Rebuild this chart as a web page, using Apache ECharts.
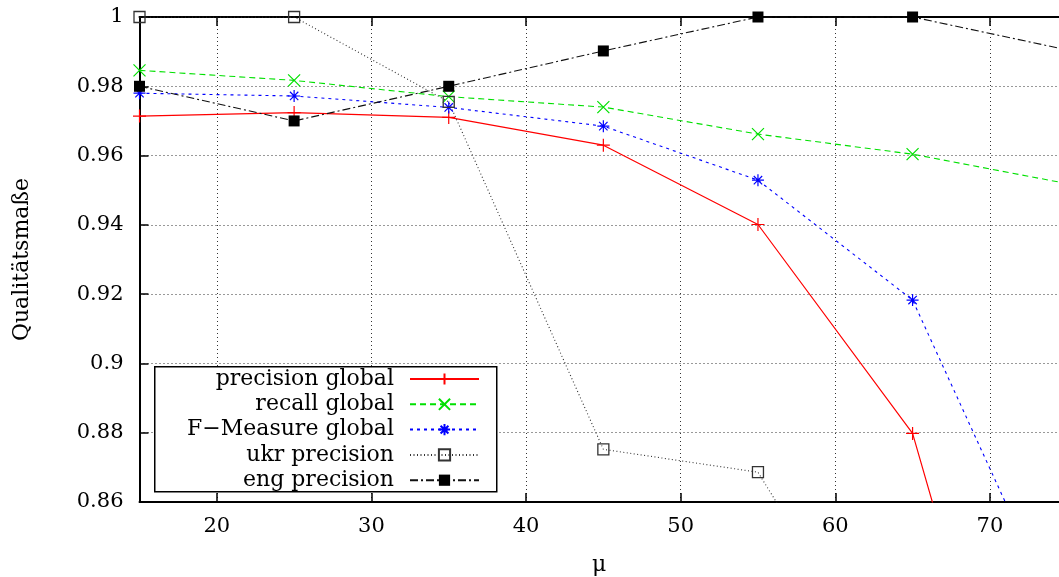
<!DOCTYPE html>
<html><head><meta charset="utf-8">
<script src="https://cdn.jsdelivr.net/npm/echarts@6/dist/echarts.min.js"></script>
<style>html,body{margin:0;padding:0;background:#fff}#c{width:1059px;height:577px}</style>
</head><body><div id="c"></div>
<script>
const xValues = [15, 25, 35, 45, 55, 65, 75];
const precisionGlobal = [0.9714, 0.9724, 0.9710, 0.9630, 0.9401, 0.8798, 0.725];
const recallGlobal = [0.9846, 0.9817, 0.9770, 0.9740, 0.9662, 0.9604, 0.9519];
const fMeasureGlobal = [0.9780, 0.9772, 0.9739, 0.9685, 0.9529, 0.9183, 0.821];
const ukrPrecision = [1.0, 1.0, 0.9755, 0.8752, 0.8686, 0.796];
const engPrecision = [0.980, 0.970, 0.980, 0.9902, 1.0, 1.0, 0.9905];
const xTicks = [20, 30, 40, 50, 60, 70];
const seriesNames = ['precision global', 'recall global', 'F\u2212Measure global', 'ukr precision', 'eng precision'];

const zip = (arr) => arr.map((v, i) => [xValues[i], v]);
const FONT = 'DejaVu Serif';
const plusPath = 'path://M0,5L10,5M5,0L5,10';
const crossPath = 'path://M0,0L10,10M10,0L0,10';
const starPath = 'path://M0,5L10,5M5,0L5,10M1.5,1.5L8.5,8.5M8.5,1.5L1.5,8.5';

function mk(name, data, color, type, symbol, size, itemStyle, width) {
  return {
    name, type: 'line', data: zip(data), symbol, symbolSize: size, symbolKeepAspect: true,
    clip: true, z: 3,
    lineStyle: { color, width: width || 1.1, type },
    itemStyle: itemStyle,
    emphasis: { disabled: true }, animation: false
  };
}

const chart = echarts.init(document.getElementById('c'), null, { renderer: 'canvas' });
const gridLine = { show: true, lineStyle: { color: '#333', width: 1, type: [1, 3] } };
const X_MAX = 74.47;
chart.setOption({
  animation: false,
  grid: { left: 139.5, top: 17, right: 0, bottom: 75, containLabel: false, outerBoundsMode: 'none' },
  xAxis: [{
    type: 'value', min: 15, max: X_MAX, position: 'bottom',
    name: '\u03bc', nameLocation: 'middle', nameGap: 52,
    nameTextStyle: { fontFamily: FONT, fontSize: 22, color: '#000' },
    axisLine: { show: true, lineStyle: { color: '#000', width: 2 } },
    axisTick: { show: true, inside: true, length: 9, customValues: xTicks, lineStyle: { color: '#000', width: 1.5 } },
    axisLabel: { customValues: xTicks, fontFamily: FONT, fontSize: 21, color: '#000', margin: 14 },
    splitLine: gridLine
  }, {
    type: 'value', min: 15, max: X_MAX, position: 'top',
    axisLine: { show: true, onZero: false, lineStyle: { color: '#000', width: 2 } },
    axisTick: { show: true, inside: true, length: 9, customValues: xTicks, lineStyle: { color: '#000', width: 1.5 } },
    axisLabel: { show: false }, splitLine: { show: false }
  }],
  yAxis: [{
    type: 'value', min: 0.86, max: 1, interval: 0.02,
    name: 'Qualit\u00e4tsma\u00dfe', nameLocation: 'middle', nameGap: 106, nameRotate: 90,
    nameTextStyle: { fontFamily: FONT, fontSize: 22, color: '#000' },
    axisLine: { show: true, lineStyle: { color: '#000', width: 2 } },
    axisTick: { show: true, inside: true, length: 9, lineStyle: { color: '#000', width: 1.5 } },
    axisLabel: { fontFamily: FONT, fontSize: 21, color: '#000', margin: 16,
      formatter: v => String(+v.toFixed(2)) },
    splitLine: gridLine
  }],
  legend: {
    orient: 'vertical', align: 'right', right: 579, top: 368,
    padding: 0, itemGap: 3.3, itemWidth: 69, itemHeight: 14, z: 10,
    selectedMode: false,
    data: seriesNames,
    textStyle: { fontFamily: FONT, fontSize: 22, color: '#000', lineHeight: 22, padding: [0, 11, 0, 0] }
  },
  graphic: [{
    type: 'rect', z: 5, left: 154, top: 366,
    shape: { width: 342, height: 125 },
    style: { fill: '#fff', stroke: '#000', lineWidth: 1.5 }
  }],
  series: [
    mk(seriesNames[0], precisionGlobal, '#ff0000', 'solid', plusPath, 13,
      { color: '#ff0000', borderColor: '#ff0000', borderWidth: 1.2 }, 1.2),
    mk(seriesNames[1], recallGlobal, '#00e000', [6, 4], crossPath, 12,
      { color: '#00e000', borderColor: '#00e000', borderWidth: 1.2 }),
    mk(seriesNames[2], fMeasureGlobal, '#0000ff', [3, 4], starPath, 12,
      { color: '#0000ff', borderColor: '#0000ff', borderWidth: 1.2 }),
    mk(seriesNames[3], ukrPrecision, '#333', [1, 2.5], 'rect', 11,
      { color: 'rgba(255,255,255,0)', borderColor: '#333', borderWidth: 1.3 }),
    mk(seriesNames[4], engPrecision, '#111', [8, 3, 2, 3], 'rect', 11,
      { color: '#000', borderColor: '#000', borderWidth: 0 })
  ]
});
</script></body></html>
